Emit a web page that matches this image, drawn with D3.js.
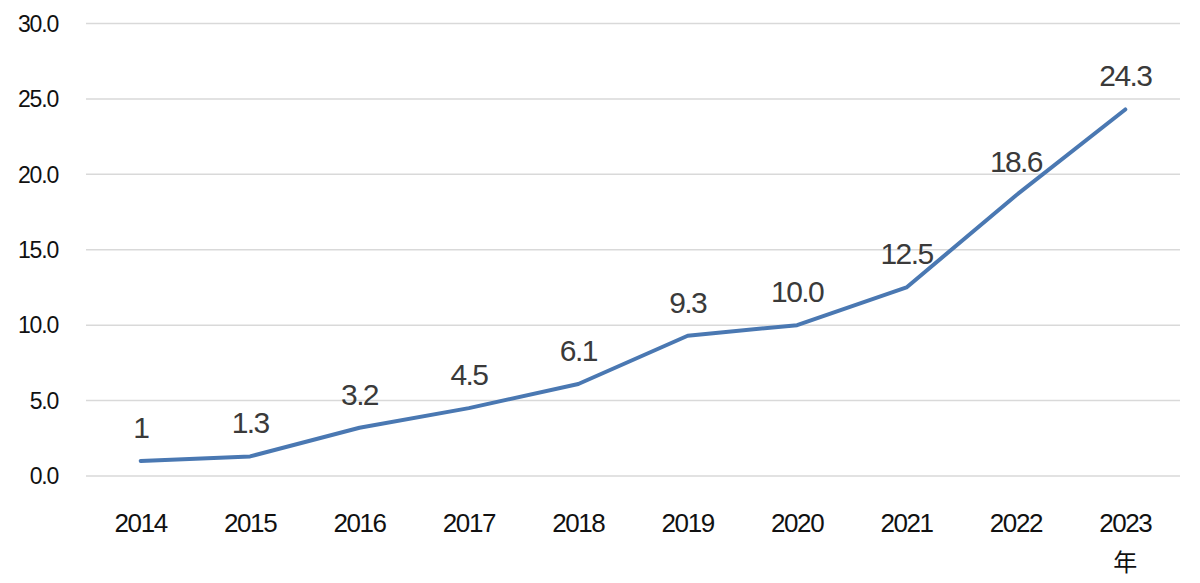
<!DOCTYPE html>
<html><head><meta charset="utf-8">
<script src="https://cdn.jsdelivr.net/npm/d3@7"></script>
<style>body{margin:0;background:#fff;}svg{display:block;font-family:"Liberation Sans",Arial,sans-serif;}</style>
</head><body><svg id="c" width="1200" height="583"></svg>
<script>
const years = ["2014","2015","2016","2017","2018","2019","2020","2021","2022","2023"];
const values = [1, 1.3, 3.2, 4.5, 6.1, 9.3, 10.0, 12.5, 18.6, 24.3];
const valueLabels = ["1","1.3","3.2","4.5","6.1","9.3","10.0","12.5","18.6","24.3"];
const yTicks = [0, 5, 10, 15, 20, 25, 30];
const unitLabel = "年";

const svg = d3.select("#c");
const x = d3.scaleBand().domain(years).range([86, 1180]);
const y = d3.scaleLinear().domain([0, 30]).range([476, 23.5]);

svg.append("g").selectAll("line").data(yTicks).join("line")
  .attr("x1", 86).attr("x2", 1180)
  .attr("y1", d => y(d)).attr("y2", d => y(d))
  .attr("stroke", "#d9d9d9").attr("stroke-width", 1.5);

svg.append("g").selectAll("text").data(yTicks).join("text")
  .attr("x", 58).attr("y", d => y(d)).attr("dy", "0.36em")
  .attr("text-anchor", "end").attr("font-size", 23).attr("letter-spacing", -1.2)
  .attr("fill", "#111").text(d => d.toFixed(1));

svg.append("g").selectAll("text").data(years).join("text")
  .attr("x", d => x(d) + x.bandwidth()/2).attr("y", 523).attr("dy", "0.36em")
  .attr("text-anchor", "middle").attr("font-size", 26).attr("letter-spacing", -1.4)
  .attr("fill", "#111").text(d => d);

svg.append("text").attr("x", x("2023") + x.bandwidth()/2).attr("y", 562).attr("dy", "0.36em")
  .attr("text-anchor", "middle").attr("font-size", 24)
  .attr("font-family", "'Noto Sans CJK SC',sans-serif").attr("fill", "#111").text(unitLabel);

const line = d3.line().x((d,i) => x(years[i]) + x.bandwidth()/2).y(d => y(d));
svg.append("path").datum(values).attr("d", line)
  .attr("fill", "none").attr("stroke", "#4a78b2").attr("stroke-width", 4)
  .attr("stroke-linecap", "round").attr("stroke-linejoin", "round");

svg.append("g").selectAll("text").data(values).join("text")
  .attr("x", (d,i) => x(years[i]) + x.bandwidth()/2).attr("y", d => y(d) - 34).attr("dy", "0.36em")
  .attr("text-anchor", "middle").attr("font-size", 30).attr("letter-spacing", -1.6)
  .attr("fill", "#3a3a3a").text((d,i) => valueLabels[i]);
</script></body></html>
